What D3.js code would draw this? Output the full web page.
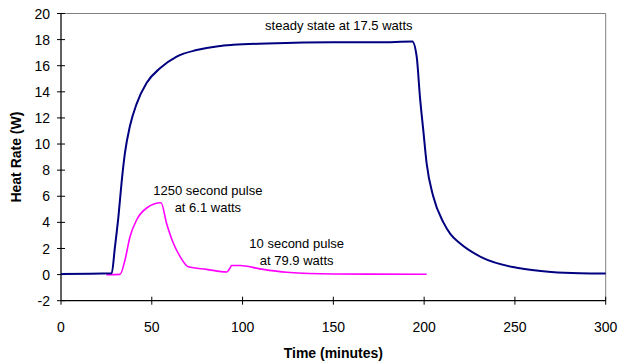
<!DOCTYPE html>
<html>
<head>
<meta charset="utf-8">
<script src="https://cdn.jsdelivr.net/npm/d3@7"></script>
<style>
  html, body { margin: 0; padding: 0; background: #fff; }
  svg { display: block; font-family: "Liberation Sans", Arial, sans-serif; }
</style>
</head>
<body>
<svg id="chart" width="618" height="364"></svg>
<script>
// ---- data ----
const xTicks = [0, 50, 100, 150, 200, 250, 300];
const yTicks = [-2, 0, 2, 4, 6, 8, 10, 12, 14, 16, 18, 20];

const steadyTime  = [0, 27.9, 29.7, 31.6, 33.4, 35.2, 38, 41.7, 47.2, 54.5, 63.7, 74.7, 86.6, 94.9, 113.3, 149.8, 175, 193.5, 195.9, 197.7, 199.5, 201.4, 205, 210.6, 214.5, 219.7, 232.6, 251.9, 270, 285.8, 300];
const steadyValue = [0.05, 0.1, 2.1, 4.4, 7.1, 9.3, 11.4, 13.1, 14.7, 15.8, 16.7, 17.2, 17.5, 17.6, 17.7, 17.8, 17.8, 17.85, 16.7, 13.6, 11.1, 8.5, 6.0, 4.0, 3.1, 2.4, 1.26, 0.5, 0.2, 0.1, 0.08];

const pulseTime  = [25, 32.5, 35.2, 38, 41.7, 47.2, 55.1, 58.2, 61.9, 65.5, 70.1, 80.2, 91.3, 93.1, 94, 98.6, 109.6, 124.3, 150, 201.4];
const pulseValue = [0, 0.02, 1.1, 2.9, 4.2, 5.1, 5.5, 3.9, 2.4, 1.4, 0.6, 0.4, 0.2, 0.5, 0.7, 0.7, 0.44, 0.18, 0.05, 0.03];

const annotations = [
  { lines: ["steady state at 17.5 watts"], t: 153, v: 18.7 },
  { lines: ["1250 second pulse", "at 6.1 watts"], t: 80.9, v: 6.1 },
  { lines: ["10 second pulse", "at 79.9 watts"], t: 129.8, v: 2.0 }
];

// ---- layout ----
const svg = d3.select("#chart");
const mLeft = 61, mRight = 605.7, mTop = 13.5, mBottom = 300.7;

const x = d3.scaleLinear().domain([0, 300]).range([mLeft, mRight]);
const y = d3.scaleLinear().domain([-2, 20]).range([mBottom, mTop]);

// frame (top and right borders)
svg.append("path")
  .attr("d", `M${mLeft},${mTop}H${mRight}V${mBottom}`)
  .attr("fill", "none").attr("stroke", "#808080").attr("stroke-width", 1);

// x axis
const xAxis = svg.append("g").attr("transform", `translate(0,${mBottom})`);
xAxis.append("line").attr("x1", mLeft).attr("x2", mRight).attr("stroke", "#000").attr("stroke-width", 1.2);
xAxis.selectAll("line.tick").data(xTicks).join("line").attr("class", "tick")
  .attr("x1", d => x(d)).attr("x2", d => x(d)).attr("y1", -4).attr("y2", 4)
  .attr("stroke", "#000").attr("stroke-width", 1);
xAxis.selectAll("text").data(xTicks).join("text")
  .attr("x", d => x(d)).attr("y", 31.5).attr("text-anchor", "middle")
  .attr("font-size", 14).attr("fill", "#000").text(d => d);

// y axis
const yAxis = svg.append("g");
yAxis.append("line").attr("x1", mLeft).attr("x2", mLeft).attr("y1", mTop).attr("y2", mBottom)
  .attr("stroke", "#606060").attr("stroke-width", 2);
yAxis.selectAll("line.tick").data(yTicks).join("line").attr("class", "tick")
  .attr("x1", mLeft - 4).attr("x2", mLeft + 4).attr("y1", d => y(d)).attr("y2", d => y(d))
  .attr("stroke", "#000").attr("stroke-width", 1);
yAxis.selectAll("text").data(yTicks).join("text")
  .attr("x", 50).attr("y", d => y(d)).attr("dy", "0.36em").attr("text-anchor", "end")
  .attr("font-size", 14).attr("fill", "#000").text(d => d);

// axis titles
svg.append("text").attr("x", (mLeft + mRight) / 2).attr("y", 358).attr("text-anchor", "middle")
  .attr("font-size", 14).attr("font-weight", "bold").text("Time (minutes)");
svg.append("text").attr("transform", `translate(21,${(mTop + mBottom) / 2}) rotate(-90)`)
  .attr("text-anchor", "middle").attr("font-size", 14).attr("font-weight", "bold").text("Heat Rate (W)");

// lines
const line = d3.line().x(d => x(d[0])).y(d => y(d[1])).curve(d3.curveMonotoneX);
svg.append("path").datum(d3.zip(pulseTime, pulseValue))
  .attr("d", line).attr("fill", "none").attr("stroke", "#FF00FF").attr("stroke-width", 1.6);
svg.append("path").datum(d3.zip(steadyTime, steadyValue))
  .attr("d", line).attr("fill", "none").attr("stroke", "#000080").attr("stroke-width", 2);

// annotations
annotations.forEach(a => {
  const t = svg.append("text").attr("x", x(a.t)).attr("y", y(a.v)).attr("text-anchor", "middle")
    .attr("font-size", 13).attr("fill", "#000");
  a.lines.forEach((l, i) => t.append("tspan").attr("x", x(a.t)).attr("dy", i === 0 ? 0 : 16.7).text(l));
});
</script>
</body>
</html>
